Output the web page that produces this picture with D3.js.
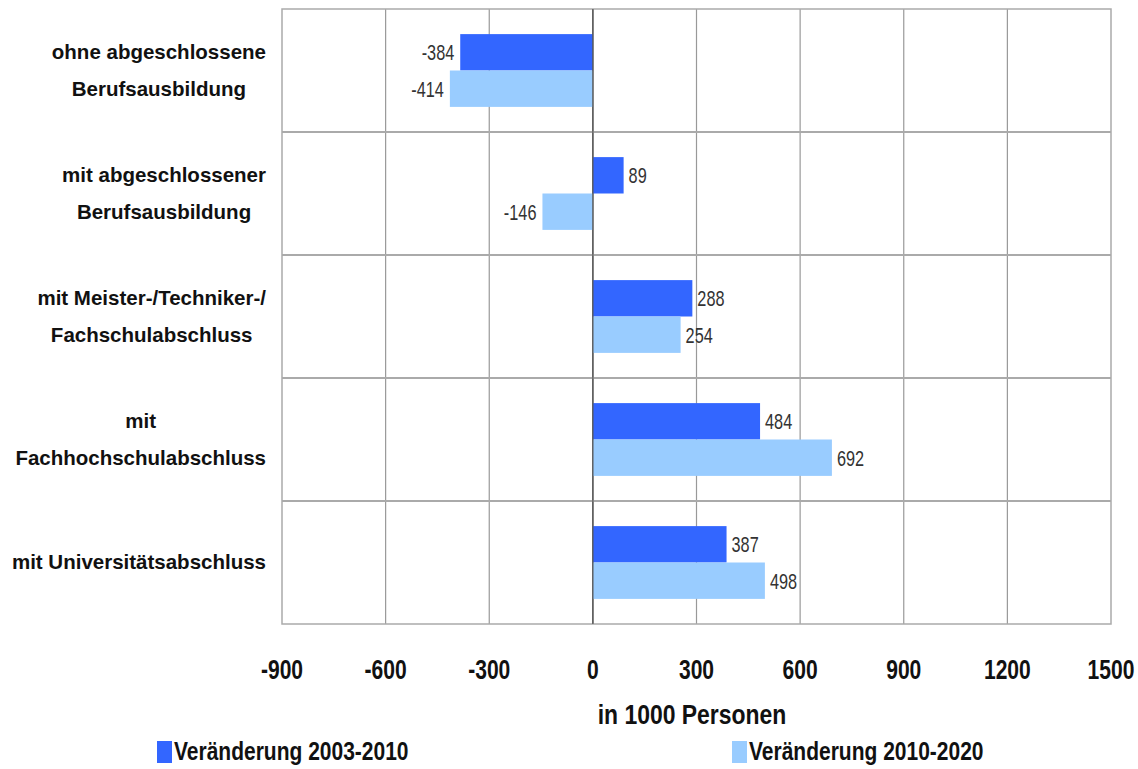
<!DOCTYPE html>
<html><head><meta charset="utf-8">
<script src="https://cdn.jsdelivr.net/npm/d3@7"></script>
<style>
body{margin:0;background:#fff;}
text{font-family:"Liberation Sans",Arial,sans-serif;}
</style></head>
<body><svg id="c" width="1138" height="769"></svg>
<script>
const categories = [
  ["ohne abgeschlossene","Berufsausbildung"],
  ["mit abgeschlossener","Berufsausbildung"],
  ["mit Meister-/Techniker-/","Fachschulabschluss"],
  ["mit","Fachhochschulabschluss"],
  ["mit Universitätsabschluss"]
];
const seriesNames = ["Veränderung 2003-2010","Veränderung 2010-2020"];
const values2003_2010 = [-384, 89, 288, 484, 387];
const values2010_2020 = [-414, -146, 254, 692, 498];
const xTicks = [-900,-600,-300,0,300,600,900,1200,1500];
const axisTitle = "in 1000 Personen";
const colors = ["#3366ff","#99ccff"];

const svg = d3.select("#c");
const L=282, R=1111, T=9, B=624;
const x = d3.scaleLinear().domain([-900,1500]).range([L,R]);
const y = d3.scaleBand().domain(d3.range(categories.length)).range([T,B]).paddingInner(0).paddingOuter(0);
const inner = d3.scaleBand().domain([0,1]).range([0,y.bandwidth()]).paddingOuter(0.69).paddingInner(0);

// place condensed text: x,y anchor point, horizontal scale
function cond(sel, px, py, sx){
  sel.attr("transform",`translate(${px},${py}) scale(${sx},1)`);
  return sel;
}

// vertical gridlines
svg.append("g").selectAll("line").data(xTicks.slice(1,-1)).join("line")
  .attr("x1",d=>x(d)).attr("x2",d=>x(d)).attr("y1",T).attr("y2",B)
  .attr("stroke",d=>d===0?"#555":"#999").attr("stroke-width",1.2);
// row separators
svg.append("g").selectAll("line").data(d3.range(1,categories.length)).join("line")
  .attr("x1",L).attr("x2",R).attr("y1",d=>y(d)).attr("y2",d=>y(d))
  .attr("stroke","#aaa").attr("stroke-width",2);
// frame
svg.append("rect").attr("x",L).attr("y",T).attr("width",R-L).attr("height",B-T)
  .attr("fill","none").attr("stroke","#aaa").attr("stroke-width",1.5);

const series=[values2003_2010, values2010_2020];
series.forEach((vals,si)=>{
  const g=svg.append("g");
  g.selectAll("rect").data(vals).join("rect")
    .attr("x",d=>x(Math.min(0,d))).attr("width",d=>Math.abs(x(d)-x(0)))
    .attr("y",(d,i)=>y(i)+inner(si)).attr("height",inner.bandwidth())
    .attr("fill",colors[si]);
  g.selectAll("text").data(vals).join("text")
    .attr("dy","0.36em").attr("text-anchor",d=>d<0?"end":"start")
    .attr("font-size",22).attr("fill","#333").text(d=>d)
    .attr("transform",(d,i)=>`translate(${d<0?x(d)-6:x(d)+5},${y(i)+inner(si)+inner.bandwidth()/2}) scale(0.74,1)`);
});

svg.append("line").attr("x1",x(0)).attr("x2",x(0)).attr("y1",T).attr("y2",B).attr("stroke","#555").attr("stroke-width",1.2);

// category labels
categories.forEach((lines,i)=>{
  const cy=y(i)+y.bandwidth()/2;
  const g=svg.append("g");
  const n=lines.length, lh=37;
  const ts=lines.map((s,k)=>g.append("text").attr("y",cy+(k-(n-1)/2)*lh).attr("dy","0.32em")
    .attr("text-anchor","middle").attr("font-size",20.5).attr("font-weight","bold").attr("fill","#111").text(s));
  const w=d3.max(ts,t=>t.node().getComputedTextLength());
  const c=266-w/2;
  ts.forEach(t=>t.attr("x",c));
});

// x axis labels
svg.append("g").selectAll("text").data(xTicks).join("text")
  .attr("dy","0.36em").attr("text-anchor","middle")
  .attr("font-size",27).attr("font-weight","bold").attr("fill","#111").text(d=>d)
  .attr("transform",d=>`translate(${x(d)},669) scale(0.78,1)`);
cond(svg.append("text").attr("dy","0.36em").attr("text-anchor","middle")
  .attr("font-size",27).attr("font-weight","bold").attr("fill","#111").text(axisTitle),692,714,0.85);

// legend
const legX=[157,732];
seriesNames.forEach((s,i)=>{
  svg.append("rect").attr("x",legX[i]).attr("y",741).attr("width",15).attr("height",22).attr("fill",colors[i]);
  cond(svg.append("text").attr("dy","0.36em")
    .attr("font-size",25).attr("font-weight","bold").attr("fill","#111").text(s),legX[i]+17,751,0.84);
});
</script></body></html>
